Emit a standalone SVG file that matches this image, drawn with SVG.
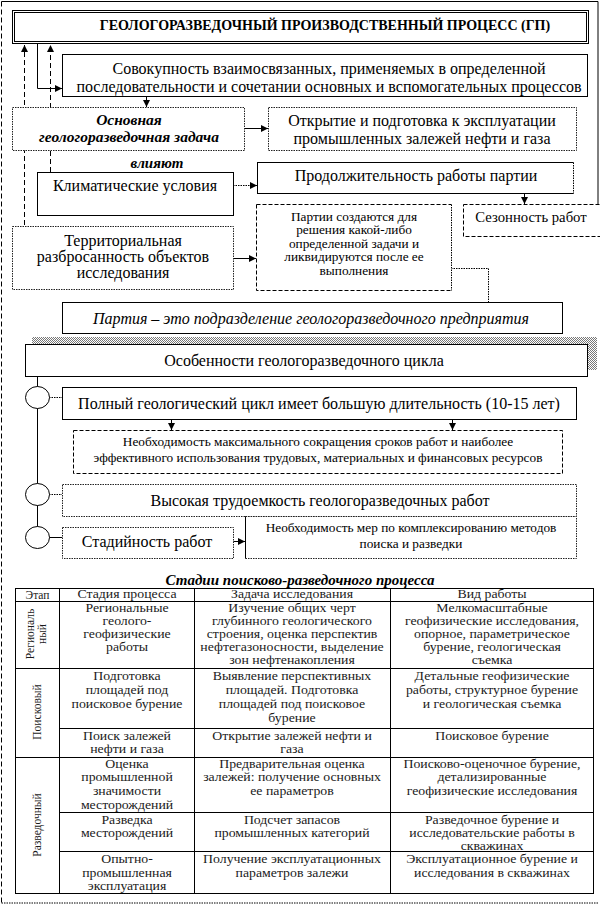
<svg xmlns="http://www.w3.org/2000/svg" width="600" height="905" viewBox="0 0 600 905">
<style>
text{font-family:"Liberation Serif","Times New Roman",serif;fill:#000;text-anchor:middle}
.t16{font-size:16px}
.t13{font-size:13.3px}
.tb{font-size:11.5px;fill:#1a1a1a}
.bi{font-weight:bold;font-style:italic}
.box{fill:#fff;stroke:#000;stroke-width:1}
.dot{fill:#fff;stroke:#222;stroke-width:1;stroke-dasharray:1.5 1}
.dash{fill:#fff;stroke:#000;stroke-width:1;stroke-dasharray:4 2}
.ln{fill:none;stroke:#000;stroke-width:1}
.dl{fill:none;stroke:#000;stroke-width:1;stroke-dasharray:5 3}
.dt{fill:none;stroke:#000;stroke-width:1;stroke-dasharray:1.5 1}
.tbl{fill:none;stroke:#000;stroke-width:1}
</style>
<defs>
<marker id="ah" viewBox="0 0 8 8" refX="8" refY="4" markerWidth="7" markerHeight="7" orient="auto" markerUnits="userSpaceOnUse">
<path d="M0,0 L8,4 L0,8 z" fill="#000"/>
</marker>
<pattern id="hatch" width="2" height="2" patternUnits="userSpaceOnUse">
<rect width="2" height="2" fill="#fff"/>
<rect width="1" height="1" fill="#777"/>
<rect x="1" y="1" width="1" height="1" fill="#777"/>
</pattern>
</defs>

<g id="frame">
<line x1="1.5" y1="1.5" x2="1.5" y2="903" class="dl" stroke-dasharray="3 2"/>
<line x1="1.5" y1="1.5" x2="598" y2="1.5" class="ln"/>
<line x1="598" y1="1.5" x2="598" y2="236" class="ln"/>
<line x1="1.5" y1="903" x2="598" y2="903" class="dt"/>
</g>

<g id="connectors">
<line x1="24.5" y1="225" x2="24.5" y2="45" class="dl" marker-end="url(#ah)"/>
<line x1="50.5" y1="172" x2="50.5" y2="45" class="dl" marker-end="url(#ah)"/>
<polyline points="37.5,43 37.5,88.5 62,88.5" class="ln" marker-end="url(#ah)"/>
<line x1="146.5" y1="97" x2="146.5" y2="107" class="ln" marker-end="url(#ah)"/>
<line x1="245" y1="128.5" x2="268" y2="128.5" class="ln" marker-end="url(#ah)"/>
<line x1="233" y1="185.5" x2="257" y2="185.5" class="dt" marker-end="url(#ah)"/>
<line x1="524.5" y1="193" x2="524.5" y2="204" class="ln" marker-end="url(#ah)"/>
<line x1="233" y1="258.5" x2="256" y2="258.5" class="ln" marker-end="url(#ah)"/>
<polyline points="451,268.5 488.5,268.5 488.5,302" class="dt"/>
<line x1="37.5" y1="376" x2="37.5" y2="527" class="ln"/>
<line x1="49" y1="397.5" x2="62" y2="397.5" class="dt"/>
<line x1="49" y1="494.5" x2="62" y2="494.5" class="dt"/>
<line x1="49" y1="537.5" x2="62" y2="537.5" class="ln"/>
<line x1="171.5" y1="419" x2="171.5" y2="430" class="ln" marker-end="url(#ah)"/>
<line x1="452.5" y1="419" x2="452.5" y2="430" class="ln" marker-end="url(#ah)"/>
<line x1="233" y1="541.5" x2="245" y2="541.5" class="ln" marker-end="url(#ah)"/>
</g>

<g id="title">
<rect x="12.5" y="10.5" width="576" height="33" class="box"/>
<rect x="14.5" y="12.5" width="572" height="29" class="ln"/>
<text x="325" y="30" style="font-size:14px;font-weight:bold">ГЕОЛОГОРАЗВЕДОЧНЫЙ ПРОИЗВОДСТВЕННЫЙ ПРОЦЕСС (ГП)</text>
</g>

<g id="sovokupnost">
<rect x="62.5" y="54.5" width="525" height="42" class="box"/>
<text x="329" y="73.5" class="t16">Совокупность взаимосвязанных, применяемых в определенной</text>
<text x="329" y="91.5" class="t16">последовательности и сочетании основных и вспомогательных процессов</text>
</g>

<g id="osnovnaya">
<rect x="12.5" y="107.5" width="232" height="43" class="dot"/>
<text x="129" y="124.5" class="bi" style="font-size:15.5px">Основная</text>
<text x="129" y="141.5" class="bi" style="font-size:15.5px">геологоразведочная задача</text>
</g>

<g id="otkrytie">
<rect x="268.5" y="107.5" width="308" height="43" class="dot"/>
<text x="422" y="125.5" class="t16">Открытие и подготовка к эксплуатации</text>
<text x="422" y="143.5" class="t16">промышленных залежей нефти и газа</text>
</g>

<text x="157" y="168" style="font-size:15px" class="bi">влияют</text>

<g id="klimat">
<rect x="37.5" y="172.5" width="196" height="43" class="box"/>
<text x="135" y="190.5" class="t16">Климатические условия</text>
</g>

<g id="prodolzh">
<rect x="257.5" y="162.5" width="316" height="31" class="box"/>
<line x1="573.5" y1="162.5" x2="573.5" y2="193.5" stroke="#fff" stroke-width="1"/>
<line x1="573.5" y1="162.5" x2="573.5" y2="193.5" class="dt"/>
<text x="416" y="181" class="t16">Продолжительность работы партии</text>
</g>

<g id="sezon">
<rect x="463.5" y="204.5" width="140" height="32" class="dash"/>
<text x="531" y="222" style="font-size:14.7px">Сезонность работ</text>
</g>

<g id="partii">
<rect x="256.5" y="204.5" width="195" height="86" class="dash"/>
<line x1="451.5" y1="204.5" x2="451.5" y2="290.5" stroke="#fff" stroke-width="1"/>
<line x1="451.5" y1="204.5" x2="451.5" y2="290.5" class="dt"/>
<text x="354" y="220.5" class="t13">Партии создаются для</text>
<text x="354" y="234" class="t13">решения какой-либо</text>
<text x="354" y="247.5" class="t13">определенной задачи и</text>
<text x="354" y="261" class="t13">ликвидируются после ее</text>
<text x="354" y="274.5" class="t13">выполнения</text>
</g>

<g id="territ">
<rect x="12.5" y="226.5" width="221" height="63" class="dot"/>
<text x="123" y="245.5" class="t16">Территориальная</text>
<text x="123" y="261.5" class="t16">разбросанность объектов</text>
<text x="123" y="277.5" class="t16">исследования</text>
</g>

<g id="partiya">
<rect x="62.5" y="302.5" width="500" height="31" class="box"/>
<text x="311" y="323.5" class="t16" font-style="italic">Партия – это подразделение геологоразведочного предприятия</text>
</g>

<g id="osobennosti">
<rect x="32" y="337" width="565" height="33" fill="url(#hatch)"/>
<rect x="25.5" y="344.5" width="562" height="32" class="box"/>
<text x="304" y="365.5" class="t16">Особенности геологоразведочного цикла</text>
</g>

<g id="c1"><ellipse cx="37.5" cy="397.5" rx="12" ry="11" class="box"/></g>
<g id="c2"><ellipse cx="37.5" cy="494.5" rx="12" ry="11" class="box"/></g>
<g id="c3"><ellipse cx="37.5" cy="537.5" rx="12" ry="11" class="box"/></g>

<g id="polny">
<rect x="62.5" y="387.5" width="514" height="32" class="box"/>
<text x="319" y="408.5" class="t16">Полный геологический цикл имеет большую длительность (10-15 лет)</text>
</g>

<g id="neobh">
<rect x="73.5" y="430.5" width="489" height="43" class="dash"/>
<text x="318" y="445.5" class="t13">Необходимость максимального сокращения сроков работ и наиболее</text>
<text x="318" y="461.5" class="t13">эффективного использования трудовых, материальных и финансовых ресурсов</text>
</g>

<g id="vysokaya">
<rect x="62.5" y="484.5" width="514" height="32" class="dot"/>
<text x="320" y="505.5" class="t16">Высокая трудоемкость геологоразведочных работ</text>
</g>

<g id="neobh2">
<rect x="245.5" y="516.5" width="331" height="42" class="dot"/>
<line x1="245.5" y1="516.5" x2="245.5" y2="558.5" class="ln"/>
<text x="411" y="531.5" class="t13">Необходимость мер по комплексированию методов</text>
<text x="411" y="547.5" class="t13">поиска и разведки</text>
</g>

<g id="stadiynost">
<rect x="62.5" y="527.5" width="171" height="31" class="dot"/>
<text x="147" y="546.5" class="t16">Стадийность работ</text>
</g>

<g id="table">
<text x="300" y="585" style="font-size:15px" class="bi">Стадии поисково-разведочного процесса</text>
<rect x="15.5" y="588.5" width="578" height="305" class="tbl"/>
<line x1="59.5" y1="588.5" x2="59.5" y2="893.5" class="tbl"/>
<line x1="194.5" y1="588.5" x2="194.5" y2="893.5" class="tbl"/>
<line x1="390.5" y1="588.5" x2="390.5" y2="893.5" class="tbl"/>
<line x1="15.5" y1="601.5" x2="593.5" y2="601.5" class="tbl"/>
<line x1="15.5" y1="668.5" x2="593.5" y2="668.5" class="tbl"/>
<line x1="15.5" y1="757.5" x2="593.5" y2="757.5" class="tbl"/>
<line x1="59.5" y1="728.5" x2="593.5" y2="728.5" class="tbl"/>
<line x1="59.5" y1="812.5" x2="593.5" y2="812.5" class="tbl"/>
<line x1="59.5" y1="851.5" x2="593.5" y2="851.5" class="tbl"/>

<text x="37.5" y="598.5" class="tb">Этап</text>

<text transform="translate(34,634) rotate(-90)" class="tb">Региональ</text>
<text transform="translate(46,634) rotate(-90)" class="tb">ный</text>
<text transform="translate(41,712) rotate(-90)" class="tb">Поисковый</text>
<text transform="translate(41,825) rotate(-90)" class="tb">Разведочный</text>

<g transform="translate(127,0) scale(1.2,1)">
<text x="0" y="598.5" class="tb">Стадия процесса</text>
<text x="0" y="612" class="tb">Региональные</text>
<text x="0" y="625" class="tb">геолого-</text>
<text x="0" y="638" class="tb">геофизические</text>
<text x="0" y="651" class="tb">работы</text>
<text x="0" y="680" class="tb">Подготовка</text>
<text x="0" y="694" class="tb">площадей под</text>
<text x="0" y="708" class="tb">поисковое бурение</text>
<text x="0" y="740" class="tb">Поиск залежей</text>
<text x="0" y="753" class="tb">нефти и газа</text>
<text x="0" y="768" class="tb">Оценка</text>
<text x="0" y="781" class="tb">промышленной</text>
<text x="0" y="795" class="tb">значимости</text>
<text x="0" y="809" class="tb">месторождений</text>
<text x="0" y="824" class="tb">Разведка</text>
<text x="0" y="837" class="tb">месторождений</text>
<text x="0" y="863" class="tb">Опытно-</text>
<text x="0" y="877" class="tb">промышленная</text>
<text x="0" y="890" class="tb">эксплуатация</text>
</g>

<g transform="translate(292,0) scale(1.2,1)">
<text x="0" y="598.5" class="tb">Задача исследования</text>
<text x="0" y="612" class="tb">Изучение общих черт</text>
<text x="0" y="625" class="tb">глубинного геологического</text>
<text x="0" y="638" class="tb">строения, оценка перспектив</text>
<text x="0" y="651" class="tb">нефтегазоносности, выделение</text>
<text x="0" y="664" class="tb">зон нефтенакопления</text>
<text x="0" y="680" class="tb">Выявление перспективных</text>
<text x="0" y="694" class="tb">площадей. Подготовка</text>
<text x="0" y="708" class="tb">площадей под поисковое</text>
<text x="0" y="722" class="tb">бурение</text>
<text x="0" y="740" class="tb">Открытие залежей нефти и</text>
<text x="0" y="753" class="tb">газа</text>
<text x="0" y="768" class="tb">Предварительная оценка</text>
<text x="0" y="781" class="tb">залежей: получение основных</text>
<text x="0" y="795" class="tb">ее параметров</text>
<text x="0" y="824" class="tb">Подсчет запасов</text>
<text x="0" y="837" class="tb">промышленных категорий</text>
<text x="0" y="863" class="tb">Получение эксплуатационных</text>
<text x="0" y="877" class="tb">параметров залежи</text>
</g>

<g transform="translate(492,0) scale(1.2,1)">
<text x="0" y="598.5" class="tb">Вид работы</text>
<text x="0" y="612" class="tb">Мелкомасштабные</text>
<text x="0" y="625" class="tb">геофизические исследования,</text>
<text x="0" y="638" class="tb">опорное, параметрическое</text>
<text x="0" y="651" class="tb">бурение, геологическая</text>
<text x="0" y="664" class="tb">съемка</text>
<text x="0" y="680" class="tb">Детальные геофизические</text>
<text x="0" y="694" class="tb">работы, структурное бурение</text>
<text x="0" y="708" class="tb">и геологическая съемка</text>
<text x="0" y="740" class="tb">Поисковое бурение</text>
<text x="0" y="768" class="tb">Поисково-оценочное бурение,</text>
<text x="0" y="781" class="tb">детализированные</text>
<text x="0" y="795" class="tb">геофизические исследования</text>
<text x="0" y="824" class="tb">Разведочное бурение и</text>
<text x="0" y="837" class="tb">исследовательские работы в</text>
<text x="0" y="850" class="tb">скважинах</text>
<text x="0" y="863" class="tb">Эксплуатационное бурение и</text>
<text x="0" y="877" class="tb">исследования в скважинах</text>
</g>
</g>
</svg>
